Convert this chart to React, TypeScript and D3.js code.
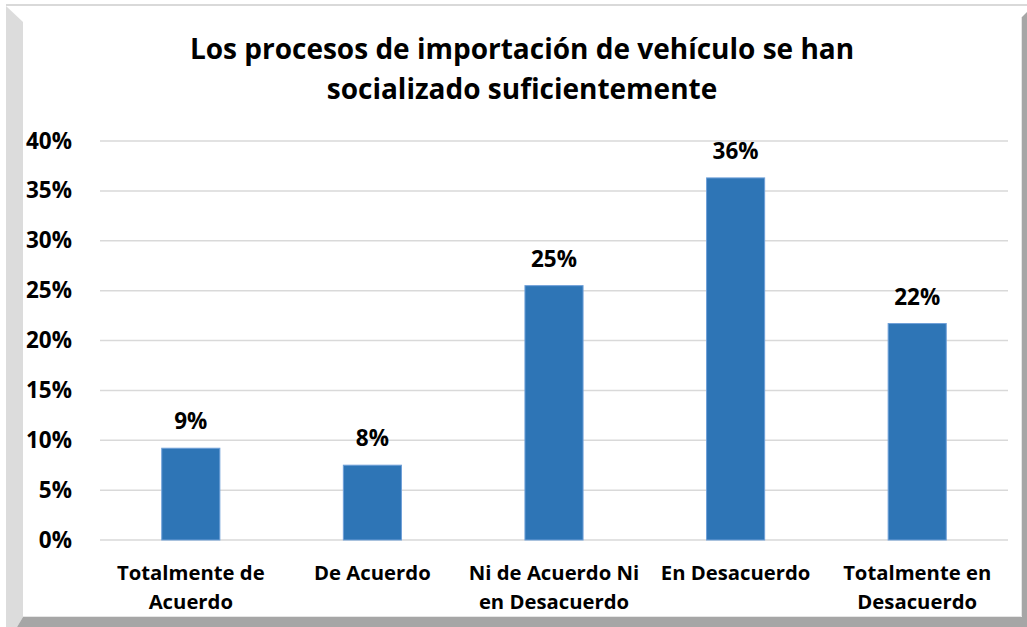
import React from "react";
import * as d3 from "d3";

const categories: string[][] = [
  ["Totalmente de", "Acuerdo"],
  ["De Acuerdo"],
  ["Ni de Acuerdo Ni", "en Desacuerdo"],
  ["En Desacuerdo"],
  ["Totalmente en", "Desacuerdo"],
];
const values: number[] = [0.092, 0.075, 0.255, 0.363, 0.217];
const valueLabels: string[] = ["9%", "8%", "25%", "36%", "22%"];
const yTicks: number[] = [0, 0.05, 0.1, 0.15, 0.2, 0.25, 0.3, 0.35, 0.4];
const titleLines: string[] = [
  "Los procesos de importación de vehículo se han",
  "socializado suficientemente",
];

const W = 1027;
const H = 627;
const FONT = "'Open Sans', Lato, sans-serif";

export default function App() {
  const plotLeft = 100;
  const plotRight = 1008;
  const plotTop = 141;
  const plotBottom = 540;

  const x = d3
    .scaleBand<number>()
    .domain(d3.range(categories.length))
    .range([plotLeft, plotRight])
    .paddingInner(0.68)
    .paddingOuter(0.34);
  const y = d3.scaleLinear().domain([0, 0.4]).range([plotBottom, plotTop]);
  const pct = d3.format(".0%");

  return (
    <svg
      width={W}
      height={H}
      style={{ position: "absolute", left: 0, top: 0, fontFamily: FONT }}
    >
      <rect x={0} y={0} width={W} height={H} fill="#ffffff" />
      {/* frame */}
      <rect x={6} y={4} width={W - 6} height={2} fill="#D9D9D9" />
      <polygon points="6,6 23,22 23,617 17,627 6,627" fill="#DCDCDC" />
      <polygon points={`1022,17 1027,12 1027,627 1022,627`} fill="#A6A6A6" />
      <polygon points={`23,617 1027,617 1027,627 17,627`} fill="#A6A6A6" />
      <line x1={23} y1={616.5} x2={1021.5} y2={616.5} stroke="#E6E6E6" />
      <line x1={1021.5} y1={17} x2={1021.5} y2={616.5} stroke="#E6E6E6" />

      {/* title */}
      {titleLines.map((t, i) => (
        <text
          key={i}
          x={522}
          y={59 + i * 40}
          textAnchor="middle"
          fontSize={28}
          fontWeight="bold"
          fill="#000"
        >
          {t}
        </text>
      ))}

      {/* gridlines */}
      {yTicks.map((t) => (
        <line
          key={t}
          x1={plotLeft}
          x2={plotRight}
          y1={y(t)}
          y2={y(t)}
          stroke="#D9D9D9"
          strokeWidth={1.5}
        />
      ))}
      {/* y tick labels */}
      {yTicks.map((t) => (
        <text
          key={"l" + t}
          x={72}
          y={y(t) + 7.5}
          textAnchor="end"
          fontSize={22.5}
          fontWeight="bold"
          fill="#000"
        >
          {pct(t)}
        </text>
      ))}

      {/* bars */}
      {values.map((v, i) => (
        <rect
          key={i}
          x={x(i)!}
          y={y(v)}
          width={x.bandwidth()}
          height={y(0) - y(v)}
          fill="#2E75B6"
          stroke="#6FA0D8"
          strokeWidth={1}
        />
      ))}
      {/* value labels */}
      {values.map((v, i) => (
        <text
          key={"v" + i}
          x={x(i)! + x.bandwidth() / 2}
          y={y(v) - 19}
          textAnchor="middle"
          fontSize={22.5}
          fontWeight="bold"
          fill="#000"
        >
          {valueLabels[i]}
        </text>
      ))}

      {/* x labels */}
      {categories.map((lines, i) => (
        <text
          key={"c" + i}
          x={x(i)! + x.bandwidth() / 2}
          textAnchor="middle"
          fontSize={20.3}
          fontWeight="bold"
          fill="#000"
        >
          {lines.map((ln, j) => (
            <tspan key={j} x={x(i)! + x.bandwidth() / 2} y={580 + j * 29}>
              {ln}
            </tspan>
          ))}
        </text>
      ))}
    </svg>
  );
}
